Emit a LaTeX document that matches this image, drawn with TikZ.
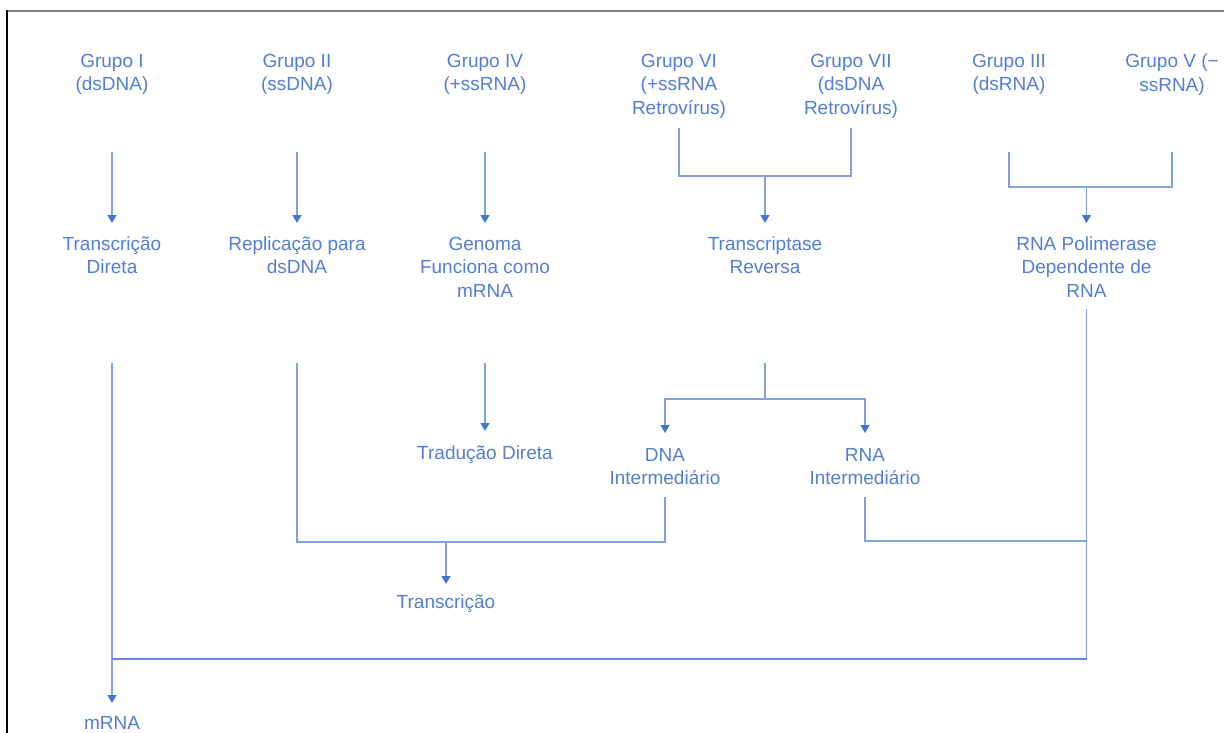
\documentclass[tikz,border=0pt]{standalone}
\usepackage{fontspec}
\setmainfont{Liberation Sans}
\usetikzlibrary{arrows.meta}
\definecolor{txtblue}{RGB}{84,126,210}
\definecolor{lineblue}{RGB}{128,162,226}
\definecolor{tipblue}{RGB}{72,116,204}
\definecolor{mainblue}{RGB}{98,136,214}
\definecolor{framegray}{RGB}{128,128,128}
\begin{document}
\begin{tikzpicture}[x=1pt,y=-1pt,
  lbl/.style={text=txtblue, align=center, font=\fontsize{19}{23.5}\selectfont, inner sep=0pt},
  conn/.style={draw=lineblue, line width=1.4pt},
  arr/.style={conn, -{Triangle[width=9pt,length=8pt,color=tipblue]}},
  mainline/.style={draw=mainblue, line width=2pt}
]
\useasboundingbox (0,0) rectangle (1224,733);
\fill[white] (0,0) rectangle (1224,733);
% frame
\draw[draw=framegray, line width=2pt] (7,11) -- (1224,11);
\draw[black, line width=1.6pt] (7,10) -- (7,733);

% top row
\node[lbl] (g1) at (112,74.5) {Grupo I\\(dsDNA)};
\node[lbl] (g2) at (297,74.5) {Grupo II\\(ssDNA)};
\node[lbl] (g4) at (485,74.5) {Grupo IV\\(+ssRNA)};
\node[lbl] (g6) at (679,86) {Grupo VI\\(+ssRNA\\Retrovírus)};
\node[lbl] (g7) at (851,86) {Grupo VII\\(dsDNA\\Retrovírus)};
\node[lbl] (g3) at (1009,74.5) {Grupo III\\(dsRNA)};
\node[lbl] (g5) at (1172,74.5) {Grupo V (−\\ssRNA)};

% second row
\node[lbl] (t1) at (112,255) {Transcrição\\Direta};
\node[lbl] (t2) at (297,255) {Replicação para\\dsDNA};
\node[lbl] (t4) at (485,267) {Genoma\\Funciona como\\mRNA};
\node[lbl] (rt) at (765,255) {Transcriptase\\Reversa};
\node[lbl] (rp) at (1086.5,267) {RNA Polimerase\\Dependente de\\RNA};

% third row
\node[lbl] (td) at (485,455) {Tradução Direta};
\node[lbl] (dna) at (665,466.5) {DNA\\Intermediário};
\node[lbl] (rna) at (865,466.5) {RNA\\Intermediário};
\node[lbl] (tr) at (446,604) {Transcrição};
\node[lbl] (mrna) at (112,723) {mRNA};

% junctions
\coordinate (j67) at (765,176);
\coordinate (j35) at (1086.5,187);
\coordinate (jrt) at (765,399);
\coordinate (jtr) at (446,542);

% connectors top -> second row
\draw[arr] (g1 |- 0,152) -- (t1 |- 0,223);
\draw[arr] (g2 |- 0,152) -- (t2 |- 0,223);
\draw[arr] (g4 |- 0,152) -- (t4 |- 0,223);
\draw[conn] (g6 |- 0,128) |- (g7 |- 0,176) -- (g7 |- 0,128);
\draw[arr] (j67) -- (rt |- 0,223);
\draw[conn] (g3 |- 0,152) |- (g5 |- 0,187) -- (g5 |- 0,152);
\draw[arr] (j35) -- (rp |- 0,223);

% second -> third
\draw[arr] (t4 |- 0,363) -- (td |- 0,431);
\draw[conn] (rt |- 0,363) -- (jrt);
\draw[arr] (jrt) -| (dna |- 0,433);
\draw[arr] (jrt) -| (rna |- 0,433);
\draw[conn] (t2 |- 0,363) |- (dna |- 0,542) -- (dna |- 0,497);
\draw[arr] (jtr) -- (tr |- 0,584);
\draw[conn] (rna |- 0,497) |- (rp |- 0,541);
\draw[conn] (rp |- 0,309) -- (rp |- 0,659);
\draw[conn] (t1 |- 0,363) -- (mrna |- 0,659);
\draw[mainline] (rp |- 0,659) -- (mrna |- 0,659);
\draw[arr] (mrna |- 0,659) -- (mrna |- 0,703);
\end{tikzpicture}
\end{document}
